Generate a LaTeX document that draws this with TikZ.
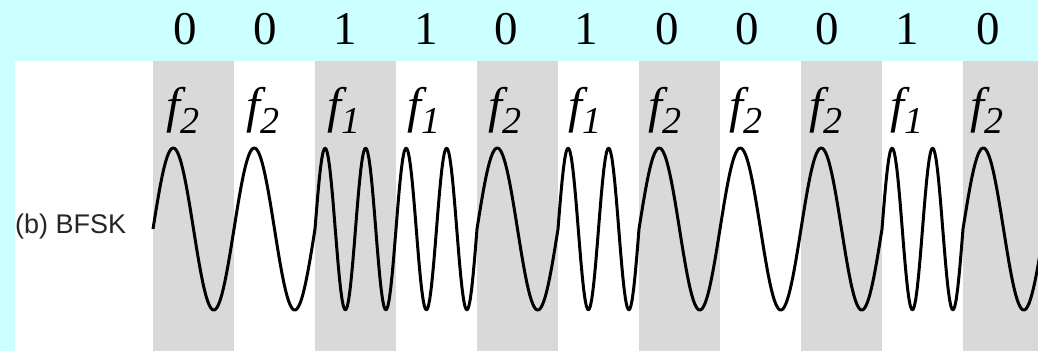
\documentclass[tikz,border=0pt]{standalone}
\usepackage{fontspec}
\setmainfont{Liberation Serif}
\newfontfamily\freqfont{Liberation Serif Italic}
\newfontfamily\labelfont{Liberation Sans}
\definecolor{bgcyan}{HTML}{CCFFFF}
\definecolor{stripe}{HTML}{D9D9D9}
\newcommand{\fsub}[1]{\raisebox{-11pt}{\fontsize{38}{38}\selectfont #1}}

\begin{document}
\begin{tikzpicture}[
  x=1pt, y=1pt,
  bit/.style={font=\fontsize{47}{47}\selectfont, anchor=base, inner sep=0pt},
  freq/.style={font=\freqfont\fontsize{50}{50}\selectfont, anchor=base, inner sep=0pt},
  tag/.style={font=\labelfont\fontsize{27}{27}\selectfont, text=black!85, anchor=base west, inner sep=0pt},
  wave/.style={line width=3pt, line join=round}
]
\useasboundingbox (0,0) rectangle (1038,-351);
\clip (0,0) rectangle (1038,-351);

% background and bit stripes
\fill[bgcyan] (0,0) rectangle (1038,-351);
\fill[white] (15,-61) rectangle (1038,-351);
\foreach \i in {0,2,...,10}
  \fill[stripe] ({153+81*\i},-61) rectangle ++(81,-290);

\node[tag] (name) at (15,-233) {(b) BFSK};

% bits and their frequencies
\foreach \b [count=\i from 0] in {0,0,1,1,0,1,0,0,0,1,0} {
  \node[bit] (bit\i) at ({185+80.3*\i},-44) {\b};
  \node[freq] (freq\i) at ({183+80.4*\i},-122) {f\fsub{\ifnum\b=1 1\else 2\fi}};
}

% modulated signal
\draw[wave] (153,-229)
  foreach \b [count=\i from 0] in {0,0,1,1,0,1,0,0,0,1,0} {
    -- plot[domain=0:81, samples=61] ({153+81*\i+\x},{-229+81*sin(360/81*(1+\b)*\x)})
  };

\end{tikzpicture}
\end{document}
